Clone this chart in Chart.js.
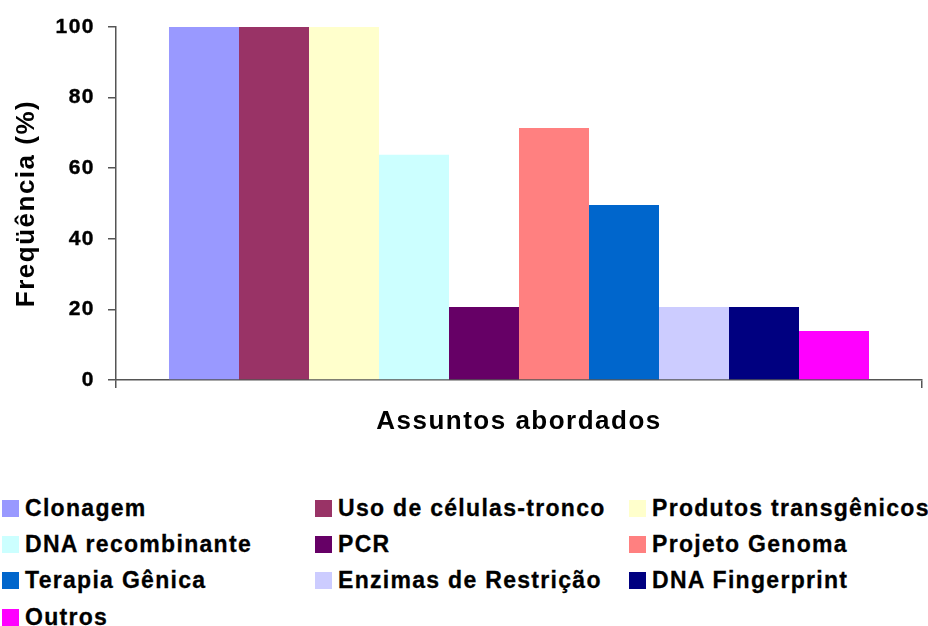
<!DOCTYPE html>
<html>
<head>
<meta charset="utf-8">
<script src="https://cdn.jsdelivr.net/npm/chart.js@4/dist/chart.umd.min.js"></script>
<style>
body{margin:0;width:928px;height:626px;overflow:hidden;background:#fff;font-family:"Liberation Sans",Arial,sans-serif;}
#wrap{position:absolute;left:0;top:0;width:928px;height:460px;}
#legend{position:absolute;left:2px;top:490px;display:grid;grid-template-columns:313px 314px 330px;grid-auto-rows:36.3px;white-space:nowrap;}
.item{display:flex;align-items:center;font-weight:bold;font-size:23px;letter-spacing:1.3px;color:#000;-webkit-text-stroke:0.3px #000;}
.box{width:17px;height:17px;margin-right:6px;flex:none;}
</style>
</head>
<body>
<div id="wrap"><canvas id="chart"></canvas></div>
<div id="legend"></div>
<script>
const assuntos = ['Clonagem', 'Uso de células-tronco', 'Produtos transgênicos', 'DNA recombinante', 'PCR',
  'Projeto Genoma', 'Terapia Gênica', 'Enzimas de Restrição', 'DNA Fingerprint', 'Outros'];
const frequencias = [100, 100, 100, 63.8, 20.7, 71.4, 49.6, 20.7, 20.7, 13.9];
const cores = ['#9999FF', '#993366', '#FFFFCC', '#CCFFFF', '#660066',
  '#FF8080', '#0066CC', '#CCCCFF', '#000080', '#FF00FF'];
const categorias = [''];
const yTicks = [0, 20, 40, 60, 80, 100];

// espaçamento entre letras como no original
const espacamento = {
  id: 'espacamento',
  beforeLayout(chart) { chart.ctx.letterSpacing = '1.5px'; },
  beforeDraw(chart) { chart.ctx.letterSpacing = '1.5px'; }
};

const eixo = '#555555';

const ctx = document.getElementById('chart').getContext('2d');
const chart = new Chart(ctx, {
  type: 'bar',
  data: {
    labels: categorias,
    datasets: assuntos.map((a, i) => ({
      label: a,
      data: [frequencias[i]],
      backgroundColor: cores[i],
      borderWidth: 0,
      categoryPercentage: 0.8685,
      barPercentage: 1.0
    }))
  },
  options: {
    responsive: true,
    maintainAspectRatio: false,
    animation: false,
    layout: { padding: { top: 27, right: 6, left: 0, bottom: 0 } },
    plugins: {
      legend: { display: false },
      tooltip: { enabled: false }
    },
    scales: {
      x: {
        type: 'category',
        ticks: { display: false },
        grid: { drawOnChartArea: false, tickLength: 8, color: eixo, lineWidth: 1.5, offset: true },
        border: { color: eixo, width: 1.5 },
        title: {
          display: true,
          text: 'Assuntos abordados',
          color: '#000',
          font: { family: 'Liberation Sans', size: 26, weight: 'bold' },
          padding: { top: 0, bottom: 23 }
        },
        afterFit: s => { s.height = 80; }
      },
      y: {
        type: 'linear',
        min: 0,
        max: 100,
        afterBuildTicks: s => { s.ticks = yTicks.map(v => ({ value: v })); },
        ticks: {
          color: '#000',
          padding: 13,
          textStrokeColor: '#000',
          textStrokeWidth: 0.4,
          font: { family: 'Liberation Sans', size: 21, weight: 'bold' }
        },
        grid: { drawOnChartArea: false, tickLength: 8, color: eixo, lineWidth: 1.5 },
        border: { color: eixo, width: 1.5 },
        title: {
          display: true,
          text: 'Freqüência (%)',
          color: '#000',
          font: { family: 'Liberation Sans', size: 26, weight: 'bold' },
          padding: { top: 11, bottom: 0 }
        },
        afterFit: s => { s.width = 116; }
      }
    }
  },
  plugins: [espacamento]
});

// legenda em três colunas
const legenda = document.getElementById('legend');
chart.data.datasets.forEach(ds => {
  const item = document.createElement('div');
  item.className = 'item';
  const box = document.createElement('span');
  box.className = 'box';
  box.style.background = ds.backgroundColor;
  item.appendChild(box);
  item.appendChild(document.createTextNode(ds.label));
  legenda.appendChild(item);
});
</script>
</body>
</html>
